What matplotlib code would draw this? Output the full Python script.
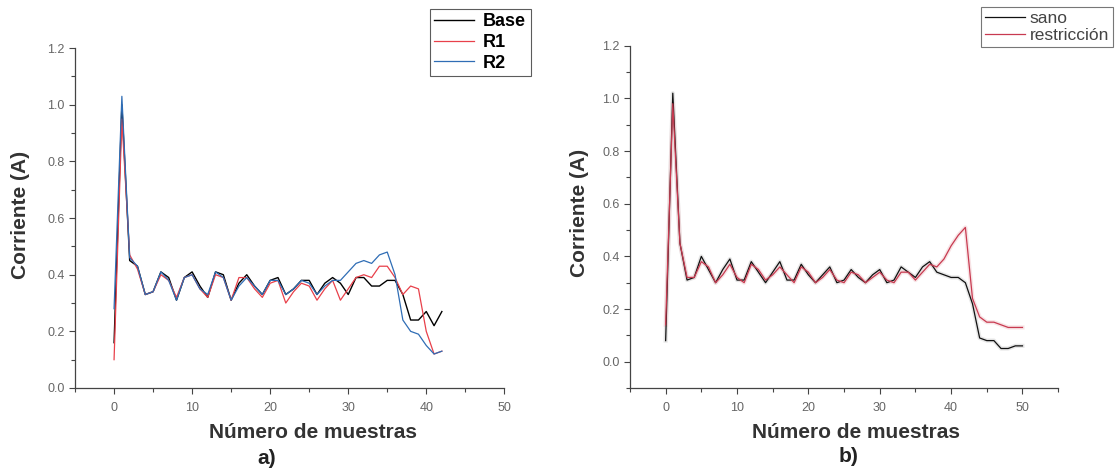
import matplotlib
matplotlib.use("Agg")
from matplotlib import pyplot as plt
from matplotlib.ticker import MultipleLocator

plt.rcParams['font.family'] = ['Liberation Sans', 'DejaVu Sans']

# panel a) data
x_a = list(range(43))
base = [0.16, 1.00, 0.45, 0.43, 0.33, 0.34, 0.41, 0.39, 0.31, 0.39, 0.41, 0.36, 0.32, 0.41, 0.40,
        0.31, 0.37, 0.40, 0.36, 0.33, 0.38, 0.39, 0.33, 0.35, 0.38, 0.38, 0.33, 0.37, 0.39, 0.37,
        0.33, 0.39, 0.39, 0.36, 0.36, 0.38, 0.38, 0.33, 0.24, 0.24, 0.27, 0.22, 0.27]
r1 = [0.10, 0.95, 0.47, 0.42, 0.33, 0.34, 0.40, 0.38, 0.32, 0.39, 0.40, 0.35, 0.32, 0.40, 0.39,
      0.31, 0.39, 0.39, 0.35, 0.32, 0.37, 0.38, 0.30, 0.34, 0.37, 0.36, 0.31, 0.35, 0.38, 0.31,
      0.35, 0.39, 0.40, 0.39, 0.43, 0.43, 0.39, 0.33, 0.36, 0.35, 0.20, 0.12, 0.13]
r2 = [0.28, 1.03, 0.46, 0.43, 0.33, 0.34, 0.41, 0.38, 0.31, 0.39, 0.40, 0.35, 0.33, 0.41, 0.39,
      0.31, 0.36, 0.39, 0.36, 0.33, 0.38, 0.38, 0.33, 0.35, 0.38, 0.37, 0.33, 0.36, 0.38, 0.38,
      0.41, 0.44, 0.45, 0.44, 0.47, 0.48, 0.40, 0.24, 0.20, 0.19, 0.15, 0.12, 0.13]

# panel b) data
x_b = list(range(51))
sano = [0.08, 1.02, 0.45, 0.31, 0.32, 0.40, 0.35, 0.30, 0.35, 0.39, 0.31, 0.31, 0.38, 0.34, 0.30,
        0.34, 0.38, 0.31, 0.31, 0.37, 0.33, 0.30, 0.33, 0.36, 0.30, 0.31, 0.35, 0.32, 0.30, 0.33,
        0.35, 0.30, 0.31, 0.36, 0.34, 0.32, 0.36, 0.38, 0.34, 0.33, 0.32, 0.32, 0.30, 0.22, 0.09,
        0.08, 0.08, 0.05, 0.05, 0.06, 0.06]
restriccion = [0.14, 0.98, 0.45, 0.32, 0.32, 0.38, 0.36, 0.30, 0.33, 0.37, 0.32, 0.30, 0.37, 0.35,
               0.31, 0.33, 0.36, 0.33, 0.30, 0.36, 0.34, 0.30, 0.32, 0.35, 0.31, 0.30, 0.34, 0.33,
               0.30, 0.32, 0.34, 0.31, 0.30, 0.34, 0.34, 0.31, 0.34, 0.37, 0.36, 0.39, 0.44, 0.48,
               0.51, 0.24, 0.17, 0.15, 0.15, 0.14, 0.13, 0.13, 0.13]

fig = plt.figure(figsize=(11.15, 4.7), dpi=100)
ax1 = fig.add_axes([0.0673, 0.1745, 0.385, 0.723])
ax2 = fig.add_axes([0.565, 0.1745, 0.384, 0.728])

tick_col = "#666666"
label_col = "#333333"


def style(ax, xlab_pos, ylab_pos):
    for s in ("top", "right"):
        ax.spines[s].set_visible(False)
    for s in ("left", "bottom"):
        ax.spines[s].set_color("#444444")
        ax.spines[s].set_linewidth(0.9)
    ax.xaxis.set_major_locator(MultipleLocator(10))
    ax.xaxis.set_minor_locator(MultipleLocator(5))
    ax.yaxis.set_major_locator(MultipleLocator(0.2))
    ax.yaxis.set_minor_locator(MultipleLocator(0.1))
    ax.tick_params(which="major", direction="out", length=4, width=0.8,
                   colors="#444444", labelcolor=tick_col, labelsize=9)
    ax.tick_params(which="minor", direction="out", length=3, width=0.8, colors="#444444")
    ax.tick_params(axis="x", which="major", pad=6)
    ax.yaxis.set_major_formatter(plt.FuncFormatter(lambda v, p: "%.1f" % v))
    ax.set_xlabel("Número de muestras", fontsize=15, fontweight="bold", color=label_col)
    ax.set_ylabel("Corriente (A)", fontsize=15, fontweight="bold", color=label_col)
    ax.xaxis.label.set_va("center")
    ax.yaxis.label.set_va("center")
    ax.xaxis.set_label_coords(*xlab_pos)
    ax.yaxis.set_label_coords(*ylab_pos)


# a)
ax1.plot(x_a, base, color="black", lw=1.0, label="Base")
ax1.plot(x_a, r1, color="#e8404a", lw=0.9, label="R1")
ax1.plot(x_a, r2, color="#2f6db5", lw=0.9, label="R2")
ax1.set_xlim(-5, 50)
ax1.set_ylim(0, 1.2)
style(ax1, (0.555, -0.13), (-0.128, 0.51))
leg1 = ax1.legend(loc="upper right", bbox_to_anchor=(0.476, 0.981), bbox_transform=fig.transFigure,
                  frameon=True, fancybox=False, edgecolor="#333333", handlelength=2.2,
                  handletextpad=0.5, borderpad=0.25, labelspacing=0.2,
                  prop={"weight": "bold", "size": 13}, borderaxespad=0)
leg1.get_frame().set_linewidth(0.8)

# b)
ax2.plot(x_b, sano, color="#cfcfcf", lw=3.0, alpha=0.5)
ax2.plot(x_b, restriccion, color="#f0c8cc", lw=3.0, alpha=0.5)
ax2.plot(x_b, sano, color="#111111", lw=0.9, label="sano")
ax2.plot(x_b, restriccion, color="#c83a50", lw=0.9, label="restricción")
ax2.set_xlim(-5, 55)
ax2.set_ylim(-0.1, 1.2)
style(ax2, (0.527, -0.13), (-0.117, 0.512))
leg2 = ax2.legend(loc="upper right", bbox_to_anchor=(0.998, 0.985), bbox_transform=fig.transFigure,
                  frameon=True, fancybox=False, edgecolor="#555555", handlelength=2.3,
                  handletextpad=0.3, borderpad=0.2, labelspacing=0.15,
                  prop={"size": 12.5}, borderaxespad=0)
leg2.get_frame().set_linewidth(0.8)
for t in leg2.get_texts():
    t.set_color("#444444")

fig.text(0.2395, 0.0255, "a)", fontsize=15, fontweight="bold", color="#222222",
         ha="center", va="center")
fig.text(0.761, 0.0277, "b)", fontsize=15, fontweight="bold", color="#222222",
         ha="center", va="center")

fig.savefig("out.png", dpi=100, facecolor="white")
